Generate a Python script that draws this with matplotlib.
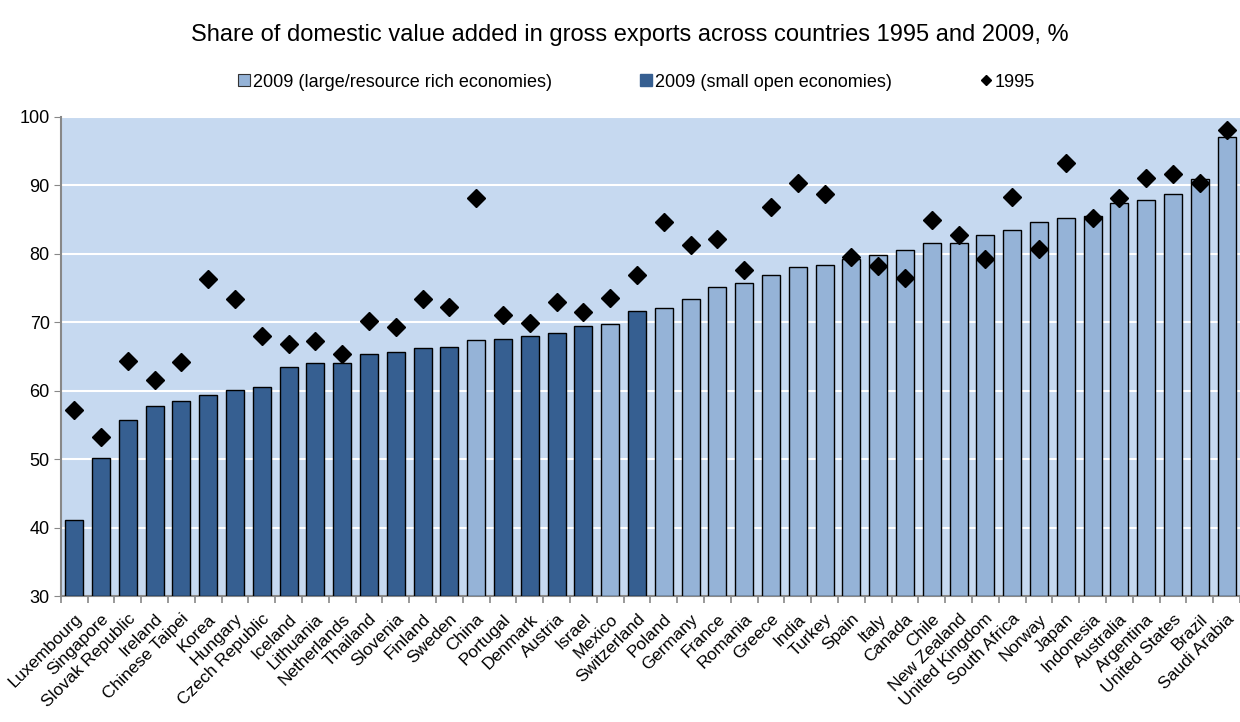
import numpy as np
import matplotlib
matplotlib.use("Agg")
import matplotlib.pyplot as plt
from matplotlib.lines import Line2D

plt.rcParams["font.family"] = ["Liberation Sans", "DejaVu Sans"]

countries = ["Luxembourg", "Singapore", "Slovak Republic", "Ireland", "Chinese Taipei",
             "Korea", "Hungary", "Czech Republic", "Iceland", "Lithuania", "Netherlands",
             "Thailand", "Slovenia", "Finland", "Sweden", "China", "Portugal", "Denmark",
             "Austria", "Israel", "Mexico", "Switzerland", "Poland", "Germany", "France",
             "Romania", "Greece", "India", "Turkey", "Spain", "Italy", "Canada", "Chile",
             "New Zealand", "United Kingdom", "South Africa", "Norway", "Japan",
             "Indonesia", "Australia", "Argentina", "United States", "Brazil", "Saudi Arabia"]
share_2009 = [41.1, 50.1, 55.7, 57.8, 58.5, 59.4, 60.1, 60.6, 63.4, 64.0, 64.1,
              65.4, 65.6, 66.2, 66.4, 67.4, 67.6, 68.0, 68.4, 69.4, 69.7, 71.6,
              72.1, 73.4, 75.2, 75.8, 76.9, 78.1, 78.3, 79.2, 79.9, 80.5, 81.6,
              81.6, 82.7, 83.5, 84.7, 85.2, 85.6, 87.5, 87.9, 88.7, 91.0, 97.0]
share_1995 = [57.2, 53.3, 64.4, 61.6, 64.2, 76.3, 73.4, 68.0, 66.8, 67.3, 65.3,
              70.2, 69.3, 73.4, 72.2, 88.1, 71.1, 69.9, 72.9, 71.5, 73.5, 76.9,
              84.6, 81.3, 82.2, 77.6, 86.8, 90.4, 88.8, 79.5, 78.2, 76.5, 84.9,
              82.7, 79.3, 88.3, 80.7, 93.2, 85.3, 88.2, 91.1, 91.7, 90.4, 98.1]
# 1 = small open economy, 0 = large / resource rich
small_open = [1, 1, 1, 1, 1, 1, 1, 1, 1, 1, 1, 1, 1, 1, 1, 0, 1, 1, 1, 1, 0, 1,
              0, 0, 0, 0, 0, 0, 0, 0, 0, 0, 0, 0, 0, 0, 0, 0, 0, 0, 0, 0, 0, 0]

DARK, LIGHT, BG = "#365F91", "#95B3D7", "#C6D9F0"

fig = plt.figure(figsize=(12.4, 7.22), dpi=100)
ax = fig.add_axes([0.049, 0.1745, 0.951, 0.6635])
x = np.arange(len(countries))
cols = [DARK if s else LIGHT for s in small_open]
ax.set_facecolor(BG)
ax.bar(x, np.array(share_2009) - 30, bottom=30, width=0.67, color=cols,
       edgecolor="black", linewidth=1.0, zorder=3)
ax.plot(x, share_1995, "D", color="black", ms=9.5, zorder=4)

ax.set_ylim(30, 100)
ax.set_xlim(-0.5, 43.3)
ax.set_yticks(range(30, 101, 10))
ax.grid(axis="y", color="white", lw=1.5, zorder=1)
ax.set_axisbelow(True)
ax.tick_params(axis="y", labelsize=13, length=5, color="#888888", pad=3)
ax.set_xticks(x)
ax.set_xticklabels(countries, rotation=45, ha="right", rotation_mode="anchor", fontsize=12.5)
ax.tick_params(axis="x", which="major", length=0, pad=11)
ax.set_xticks(np.arange(-0.5, len(countries), 1.0), minor=True)
ax.tick_params(axis="x", which="minor", length=5, color="#888888", width=1.2)
for s in ["top", "right"]:
    ax.spines[s].set_visible(False)
for s in ["left", "bottom"]:
    ax.spines[s].set_color("#888888")
    ax.spines[s].set_linewidth(1.5)

fig.text(0.508, 0.951, "Share of domestic value added in gross exports across countries 1995 and 2009, %",
         ha="center", va="center", fontsize=17)
handles = [Line2D([], [], marker="s", ls="", color=LIGHT, mec="#333333", mew=0.8, ms=8),
           Line2D([], [], marker="s", ls="", color=DARK, mec=DARK, ms=8),
           Line2D([], [], marker="D", ls="", color="black", ms=5)]
labels = ["2009 (large/resource rich economies)", "2009 (small open economies)", "1995"]
fig.legend(handles, labels, loc="center", bbox_to_anchor=(0.513, 0.886), ncol=3,
           frameon=False, fontsize=13, handlelength=0.8, handletextpad=0.1,
           columnspacing=4.8)

fig.savefig("out.png", dpi=100)
